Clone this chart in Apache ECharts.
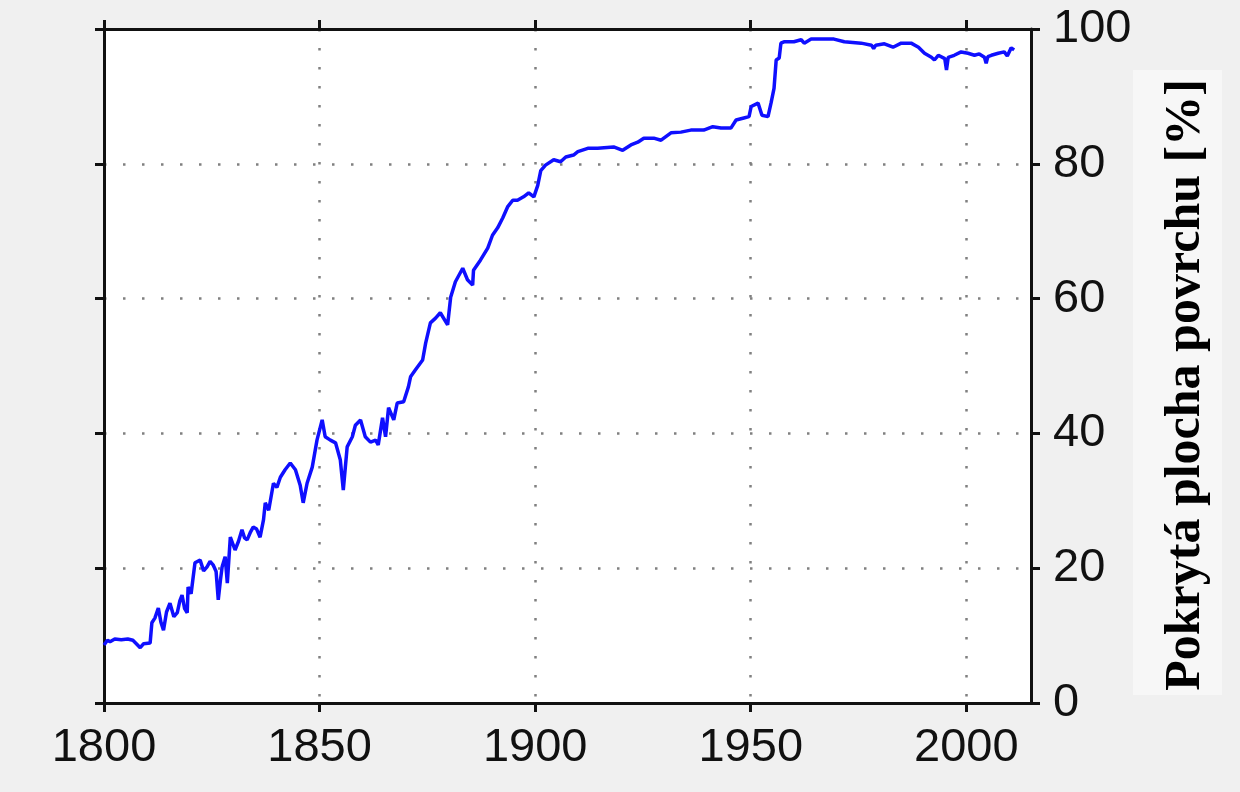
<!DOCTYPE html>
<html>
<head>
<meta charset="utf-8">
<script src="https://cdn.jsdelivr.net/npm/echarts@6/dist/echarts.min.js"></script>
<style>
html,body{margin:0;padding:0;background:#f0f0f0;}
#chart{width:1240px;height:792px;}
</style>
</head>
<body>
<div id="chart"></div>
<script>
const years = [1800,1800.8,1801.4,1802.5,1804,1805.5,1806.7,1807.5,1808.4,1809.2,1810.7,1811.1,1811.8,1812.6,1813.2,1813.8,1814.5,1815.3,1816.2,1817,1817.6,1818.1,1818.7,1819.3,1819.5,1820.2,1821.1,1822.3,1823.1,1823.9,1824.6,1825.3,1826,1826.5,1827,1827.4,1828.1,1828.6,1829.3,1830.4,1831.2,1832,1832.6,1833.2,1834,1834.6,1835.4,1836.2,1837,1837.4,1838.2,1839.3,1840.1,1840.9,1842,1843.2,1844.4,1845.5,1846.2,1847.1,1848.3,1849.4,1850.6,1851.3,1852.5,1853.7,1854.8,1855.5,1856.4,1857.6,1858.3,1859.5,1860.6,1861.8,1863,1863.6,1864.6,1865.3,1866,1867.2,1868,1869.5,1870.6,1871.1,1872.2,1873.9,1874.6,1875.7,1876.9,1878,1879.7,1880.4,1881.5,1883.2,1884.3,1885.5,1885.7,1887.3,1889,1890.1,1891.3,1892.5,1893.6,1894.8,1895.9,1897.3,1898.5,1899.7,1900.6,1901.3,1902.4,1904.3,1905.9,1907.1,1908.9,1909.9,1912.2,1914.5,1918.2,1920.3,1922.2,1923.8,1925.2,1927.5,1929.2,1931.5,1933.8,1936.1,1939.1,1941.2,1943.1,1945.4,1946.6,1948.4,1949.6,1950.1,1951.7,1952.6,1954,1954.7,1955.4,1955.9,1956.6,1957,1957.7,1960,1961.7,1962.4,1964,1969.3,1971.7,1975.6,1978,1978.5,1979,1981,1983,1984.9,1987.2,1988.9,1990.3,1991.9,1992.6,1993.5,1995,1995.4,1995.8,1997.2,1998.8,2000.4,2001.9,2003,2004.2,2004.6,2005,2005.8,2007.4,2008.8,2009.5,2010.4,2011.1];
const coverage = [8.6,9.3,9.1,9.5,9.4,9.5,9.3,8.8,8.2,8.8,8.9,11.9,12.6,14.1,12.0,10.8,13.5,14.8,12.8,13.4,15.2,16.0,14.0,13.4,17.2,16.2,20.8,21.2,19.6,20.2,21.0,20.5,19.5,15.3,18.2,20.2,21.7,17.8,24.6,22.7,24.0,25.7,24.5,24.2,25.4,26.1,25.8,24.6,27.2,29.7,28.6,32.6,32.0,33.5,34.6,35.6,34.6,32.3,29.7,32.6,35.0,39.0,42.0,39.5,39.0,38.6,36.1,31.6,38.0,39.5,41.2,42.0,39.5,38.7,39.0,38.3,42.3,39.5,43.8,42.0,44.5,44.7,46.9,48.4,49.4,50.9,53.4,56.4,57.1,57.9,56.1,60.2,62.5,64.5,62.8,62.0,64.2,65.7,67.5,69.4,70.5,72.0,73.6,74.6,74.6,75.1,75.7,75.1,76.8,79.0,79.8,80.6,80.3,81.0,81.3,81.8,82.3,82.3,82.5,82.0,82.8,83.2,83.8,83.8,83.5,84.6,84.7,85.0,85.0,85.5,85.3,85.3,86.5,86.8,87.0,88.5,89.0,87.2,87.0,89.0,91.2,95.4,95.7,97.9,98.1,98.1,98.4,97.9,98.5,98.5,98.1,97.9,97.6,97.1,97.6,97.8,97.3,97.9,97.9,97.3,96.4,95.8,95.4,96.1,95.6,93.9,95.8,96.1,96.6,96.4,96.1,96.3,95.8,94.9,95.9,96.1,96.4,96.6,96.0,97.2,96.9];
const xTicks = [1800,1850,1900,1950,2000];
const yTitle = 'Pokrytá plocha povrchu [%]';

const chart = echarts.init(document.getElementById('chart'), null, {renderer:'canvas'});
const axisLS = () => ({color:'#111', width:3});
const splitStyle = () => ({show:true, lineStyle:{color:'#808080', width:2.5, type:[2.5,16.5]}});
const option = {
  backgroundColor:'#f0f0f0',
  animation:false,
  grid:{left:104, top:29, right:209, bottom:89, show:true, backgroundColor:'#ffffff', borderWidth:0},
  xAxis:[{
    type:'value', min:1800, max:2015, interval:50, position:'bottom',
    axisLine:{show:true, onZero:false, lineStyle:axisLS()},
    axisTick:{show:true, length:9, inside:false, lineStyle:axisLS(), customValues:xTicks},
    axisLabel:{show:true, margin:22, fontFamily:'Liberation Sans', fontSize:47, color:'#111', customValues:xTicks,
      formatter:v=> (v%50===0 ? String(v) : '')},
    splitLine:splitStyle()
  },{
    type:'value', min:1800, max:2015, interval:50, position:'top',
    axisLine:{show:true, onZero:false, lineStyle:axisLS()},
    axisTick:{show:true, length:9, inside:false, lineStyle:axisLS(), customValues:xTicks},
    axisLabel:{show:false},
    splitLine:{show:false}
  }],
  yAxis:[{
    type:'value', min:0, max:100, interval:20, position:'right',
    axisLine:{show:true, onZero:false, lineStyle:axisLS()},
    axisTick:{show:true, length:9, inside:false, lineStyle:axisLS()},
    axisLabel:{show:true, margin:22, fontFamily:'Liberation Sans', fontSize:47, color:'#111'},
    splitLine:splitStyle()
  },{
    type:'value', min:0, max:100, interval:20, position:'left',
    axisLine:{show:true, onZero:false, lineStyle:axisLS()},
    axisTick:{show:true, length:9, inside:false, lineStyle:axisLS()},
    axisLabel:{show:false},
    splitLine:{show:false}
  }],
  series:[{
    type:'line',
    xAxisIndex:0, yAxisIndex:0,
    data: years.map((y,i)=>[y, coverage[i]]),
    showSymbol:false,
    lineStyle:{color:'#0f0fff', width:3.5},
    z:3
  }],
  graphic:[
    {type:'rect', shape:{x:1133, y:70, width:89, height:625}, style:{fill:'#f7f7f7'}, z:1},
    {type:'text', x:1186, y:385, rotation:Math.PI/2, z:2,
     style:{text:yTitle, fontFamily:'Liberation Serif', fontWeight:'bold', fontSize:50, fill:'#000', align:'center', verticalAlign:'middle'}}
  ]
};
chart.setOption(option);
</script>
</body>
</html>
